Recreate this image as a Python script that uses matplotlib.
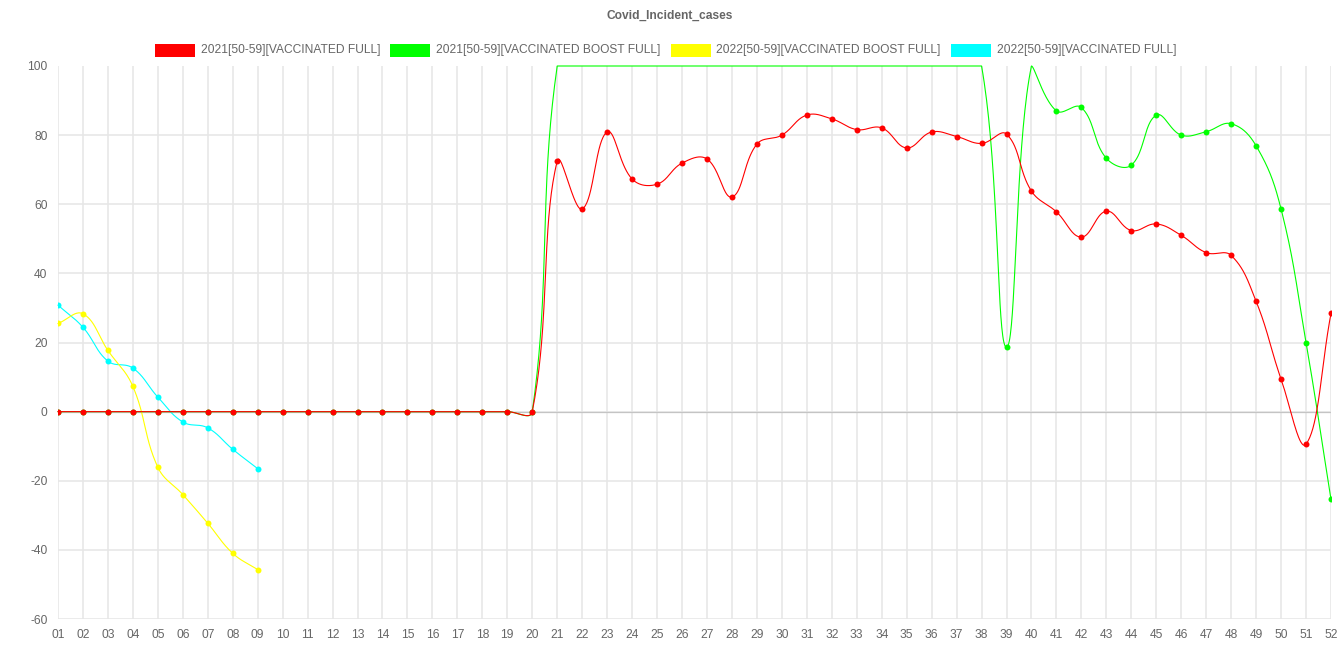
import numpy as np
import matplotlib
matplotlib.use("Agg")
import matplotlib.pyplot as plt
from matplotlib.patches import Rectangle

plt.rcParams["font.family"] = ["Liberation Sans", "DejaVu Sans"]
plt.rcParams["axes.unicode_minus"] = False

weeks = ["01", "02", "03", "04", "05", "06", "07", "08", "09", "10", "11", "12", "13",
         "14", "15", "16", "17", "18", "19", "20", "21", "22", "23", "24", "25", "26",
         "27", "28", "29", "30", "31", "32", "33", "34", "35", "36", "37", "38", "39",
         "40", "41", "42", "43", "44", "45", "46", "47", "48", "49", "50", "51", "52"]

full_2021 = [0, 0, 0, 0, 0, 0, 0, 0, 0, 0, 0, 0, 0, 0, 0, 0, 0, 0, 0, 0,
             72.5, 58.6, 80.9, 67.3, 65.8, 71.9, 73.1, 62.1, 77.4, 80.0, 85.8, 84.7, 81.6,
             82.1, 76.3, 80.9, 79.6, 77.6, 80.3, 63.8, 57.8, 50.5, 58.0, 52.4, 54.3, 51.0,
             46.0, 45.2, 31.9, 9.4, -9.4, 28.4]
boost_2021 = [0, 0, 0, 0, 0, 0, 0, 0, 0, 0, 0, 0, 0, 0, 0, 0, 0, 0, 0, 0,
              100, 100, 100, 100, 100, 100, 100, 100, 100, 100, 100, 100, 100, 100, 100,
              100, 100, 100, 18.6, 100, 87.0, 88.0, 73.3, 71.3, 85.8, 80.0, 81.0, 83.3,
              76.9, 58.6, 20.0, -25.4]
boost_2022 = [25.5, 28.3, 17.7, 7.3, -16.1, -24.0, -32.3, -41.0, -45.7]
full_2022 = [30.8, 24.4, 14.6, 12.6, 4.2, -3.0, -4.7, -10.9, -16.5]

series = [
    ("2021[50-59][VACCINATED FULL]", full_2021, "#ff0000"),
    ("2021[50-59][VACCINATED BOOST FULL]", boost_2021, "#00ff00"),
    ("2022[50-59][VACCINATED BOOST FULL]", boost_2022, "#ffff00"),
    ("2022[50-59][VACCINATED FULL]", full_2022, "#00ffff"),
]

FS = 8.65
W, H = 1341, 670
fig = plt.figure(figsize=(W / 100, H / 100), dpi=100)
ax = fig.add_axes([58 / W, 1 - 619 / H, 1273 / W, 553 / H])
ax.set_xlim(0, len(weeks) - 1)
ax.set_ylim(-60, 100)
ax.set_xticks(range(len(weeks)))
ax.set_xticklabels(weeks)
ax.set_yticks(range(-60, 101, 20))
for s in ax.spines.values():
    s.set_visible(False)
ax.tick_params(length=0, colors="#666666", labelsize=FS)
ax.tick_params(axis="x", pad=7)
ax.tick_params(axis="y", pad=7.5)
ax.grid(True, color="#e6e6e6", linewidth=1.1)
ax.yaxis.get_gridlines()[-1].set_visible(False)
ax.set_axisbelow(True)
ax.axhline(0, color="#c4c4c4", linewidth=0.9, zorder=1)


def bezier_line(xs, ys, tension=0.4, n=40):
    # chart.js style spline, computed in pixel space with capped control points
    pts = ax.transData.transform(np.column_stack([xs, ys]))
    (x0, y0), (x1, y1) = ax.transData.transform([(ax.get_xlim()[0], ax.get_ylim()[0]),
                                                 (ax.get_xlim()[1], ax.get_ylim()[1])])
    m = len(pts)
    cp_prev = np.zeros_like(pts)
    cp_next = np.zeros_like(pts)
    for i in range(m):
        cur = pts[i]
        prev = pts[i - 1] if i > 0 else cur
        nxt = pts[i + 1] if i < m - 1 else cur
        d01 = np.hypot(*(cur - prev))
        d12 = np.hypot(*(nxt - cur))
        tot = d01 + d12
        s01 = d01 / tot if tot else 0
        s12 = d12 / tot if tot else 0
        cp_prev[i] = cur - tension * s01 * (nxt - prev)
        cp_next[i] = cur + tension * s12 * (nxt - prev)
    lo = np.array([min(x0, x1), min(y0, y1)])
    hi = np.array([max(x0, x1), max(y0, y1)])
    cp_prev = np.clip(cp_prev, lo, hi)
    cp_next = np.clip(cp_next, lo, hi)
    t = np.linspace(0, 1, n)[:, None]
    out = [pts[:1]]
    for i in range(m - 1):
        p0, p1, p2, p3 = pts[i], cp_next[i], cp_prev[i + 1], pts[i + 1]
        seg = ((1 - t) ** 3) * p0 + 3 * ((1 - t) ** 2) * t * p1 + 3 * (1 - t) * t ** 2 * p2 + t ** 3 * p3
        out.append(seg[1:])
    return ax.transData.inverted().transform(np.vstack(out))


for k, (label, vals, color) in enumerate(series):
    xs = np.arange(len(vals))
    vals = np.array(vals, dtype=float)
    curve = bezier_line(xs, vals)
    z = 10 - k
    ax.plot(curve[:, 0], curve[:, 1], color=color, linewidth=0.8, zorder=z, clip_on=False)
    show = vals < 100
    ax.plot(xs[show], vals[show], "o", color=color, markersize=4.3, markeredgewidth=0, zorder=z)

# title
fig.text(670 / W, 1 - 16 / H, "Covid_Incident_cases", ha="center", va="center",
         fontsize=FS, fontweight="bold", color="#666666")

# legend, laid out like chart.js (box 40px, gap 6px, padding 10px)
fig.canvas.draw()
renderer = fig.canvas.get_renderer()
widths = []
for label, _, _ in series:
    t = fig.text(0, 0, label, fontsize=FS)
    widths.append(t.get_window_extent(renderer).width)
    t.remove()
total = sum(40 + 6 + w for w in widths) + 10 * (len(series) - 1)
x = (W - total) / 2 - 5
ly = 50.5
for (label, _, color), w in zip(series, widths):
    fig.patches.append(Rectangle((x / W, 1 - (ly + 6.5) / H), 40 / W, 13 / H,
                                 transform=fig.transFigure, facecolor=color, edgecolor="none"))
    fig.text((x + 46) / W, 1 - ly / H, label, ha="left", va="center",
             fontsize=FS, color="#666666")
    x += 40 + 6 + w + 10

fig.savefig("out.png", dpi=100)
